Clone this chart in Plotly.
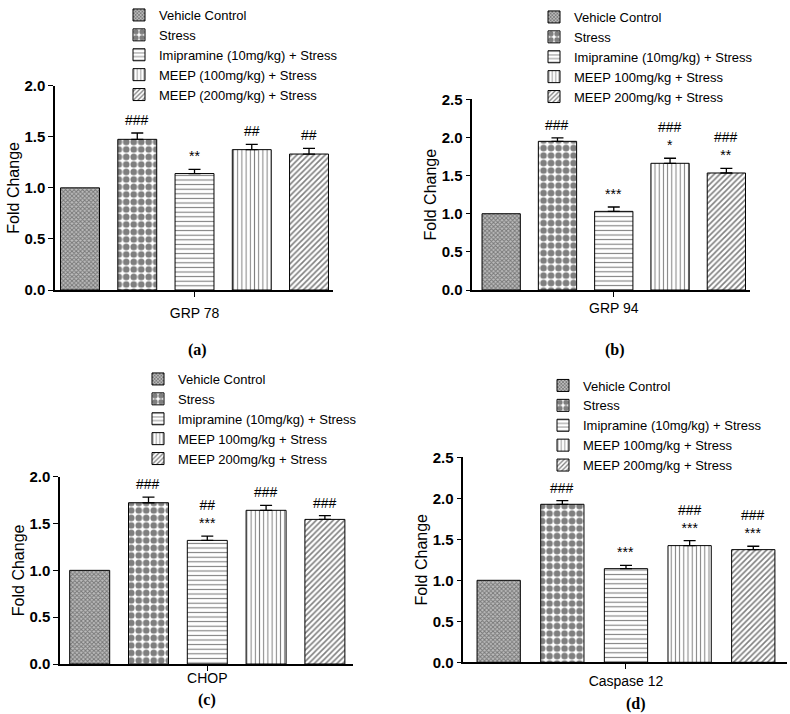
import plotly.graph_objects as go

# ---------------- data ----------------
groups_a = ["Vehicle Control", "Stress", "Imipramine (10mg/kg) + Stress",
            "MEEP (100mg/kg) + Stress", "MEEP (200mg/kg) + Stress"]
groups_b = ["Vehicle Control", "Stress", "Imipramine (10mg/kg) + Stress",
            "MEEP 100mg/kg + Stress", "MEEP 200mg/kg + Stress"]

genes = ["GRP 78", "GRP 94", "CHOP", "Caspase 12"]
panel_tags = ["(a)", "(b)", "(c)", "(d)"]

grp78_mean = [1.00, 1.475, 1.14, 1.374, 1.331]
grp78_sem = [0.0, 0.062, 0.04, 0.052, 0.056]
grp94_mean = [1.00, 1.949, 1.031, 1.661, 1.534]
grp94_sem = [0.0, 0.044, 0.057, 0.066, 0.061]
chop_mean = [1.00, 1.722, 1.32, 1.641, 1.544]
chop_sem = [0.0, 0.06, 0.046, 0.053, 0.04]
casp12_mean = [1.00, 1.927, 1.142, 1.423, 1.374]
casp12_sem = [0.0, 0.045, 0.041, 0.061, 0.041]

grp78_sig = ["", "###", "**", "##", "##"]
grp94_sig = ["", "###", "***", "###<br>*", "###<br>**"]
chop_sig = ["", "###", "##<br>***", "###", "###"]
casp12_sig = ["", "###", "***", "###<br>***", "###<br>***"]

y_max = [2.0, 2.5, 2.0, 2.5]
y_ticks = [[0, 0.5, 1.0, 1.5, 2.0], [0, 0.5, 1.0, 1.5, 2.0, 2.5],
           [0, 0.5, 1.0, 1.5, 2.0], [0, 0.5, 1.0, 1.5, 2.0, 2.5]]

means = [grp78_mean, grp94_mean, chop_mean, casp12_mean]
sems = [grp78_sem, grp94_sem, chop_sem, casp12_sem]
sigs = [grp78_sig, grp94_sig, chop_sig, casp12_sig]
legend_names = [groups_a, groups_b, groups_b, groups_b]

# ---------------- styling / layout ----------------
W, H = 790, 714
FONT = "Arial, Liberation Sans, sans-serif"

# pixel geometry of each panel: (x_left, x_right, y_bottom, y_top)
px_box = [(55, 333, 290, 85.7), (472.3, 750, 290, 99.3),
          (60, 353, 664, 476.7), (463.3, 786.7, 662.3, 457.3)]
x_ranges = [[-0.437, 4.419], [-0.513, 4.42], [-0.505, 4.478], [-0.556, 4.525]]
xlabel_standoff = [4, -1, -5, 0]
# legend anchor (left x, top y) in pixels
leg_px = [(119, 0), (534, 2), (138, 364), (543, 370.5)]
tag_px = [(197, 350), (615, 350), (207, 700), (636, 704)]

patterns = [
    dict(shape="x", size=3, solidity=0.55, fgcolor="#333333", bgcolor="#bdbdbd"),
    dict(shape=".", size=7.5, solidity=0.62, fgcolor="black", bgcolor="white"),
    dict(shape="-", size=4.6, solidity=0.24, fgcolor="black", bgcolor="white"),
    dict(shape="|", size=4.2, solidity=0.24, fgcolor="black", bgcolor="white"),
    dict(shape="/", size=4, solidity=0.4, fgcolor="black", bgcolor="white"),
]

fig = go.Figure()
annotations = []
layout_upd = {}

for p in range(4):
    ax = "" if p == 0 else str(p + 1)
    xa, ya = "x" + ax, "y" + ax
    leg = "legend" if p == 0 else "legend" + str(p + 1)
    for i in range(5):
        fig.add_trace(go.Bar(
            x=[i], y=[means[p][i]],
            width=0.68,
            name=legend_names[p][i],
            xaxis=xa, yaxis=ya, legend=leg,
            marker=dict(color="white", line=dict(color="black", width=1),
                        pattern=patterns[i]),
            error_y=dict(type="data", symmetric=False, array=[sems[p][i]],
                         arrayminus=[0], color="black", thickness=1.3, width=6,
                         visible=sems[p][i] > 0),
            showlegend=True,
        ))
        if sigs[p][i]:
            annotations.append(dict(
                x=i, y=means[p][i] + sems[p][i], xref=xa, yref=ya,
                text=sigs[p][i], showarrow=False, yanchor="bottom",
                yshift=3, font=dict(family=FONT, size=14, color="black"),
            ))
    xl, xr, yb, yt = px_box[p]
    layout_upd["xaxis" + ax] = dict(
        domain=[xl / W, xr / W], range=x_ranges[p], anchor=ya,
        showline=True, linecolor="black", linewidth=1.5, showgrid=False,
        zeroline=False, tickvals=[2], ticktext=[genes[p]], ticks="outside",
        ticklen=5, tickwidth=1.3, tickcolor="black", automargin=False,
        ticklabelstandoff=xlabel_standoff[p], fixedrange=True,
        tickfont=dict(family=FONT, size=14, color="black"),
    )
    layout_upd["yaxis" + ax] = dict(
        domain=[1 - yb / H, 1 - yt / H], range=[0, y_max[p]], anchor=xa,
        showline=True, linecolor="black", linewidth=1.5, showgrid=False,
        zeroline=False, tickvals=y_ticks[p], ticktext=["%.1f" % v for v in y_ticks[p]],
        ticks="outside", ticklen=5, tickwidth=1.3, tickcolor="black",
        automargin=False, fixedrange=True,
        tickfont=dict(family=FONT, size=15, color="black", weight="bold"),
        title=dict(text="Fold Change", standoff=1,
                   font=dict(family=FONT, size=16, color="black")),
    )
    lx, ly = leg_px[p]
    layout_upd[leg] = dict(
        x=lx / W, y=1 - ly / H, xanchor="left", yanchor="top",
        bgcolor="rgba(0,0,0,0)", borderwidth=0, tracegroupgap=0,
        font=dict(family=FONT, size=13, color="black"),
    )
    tx, ty = tag_px[p]
    annotations.append(dict(
        x=tx / W, y=1 - ty / H, xref="paper", yref="paper", text="<b>" + panel_tags[p] + "</b>",
        showarrow=False, xanchor="center", yanchor="middle",
        font=dict(family="Liberation Serif, Times New Roman, serif", size=16, color="black"),
    ))

fig.update_layout(
    width=W, height=H, margin=dict(l=0, r=0, t=0, b=0),
    paper_bgcolor="white", plot_bgcolor="white",
    barmode="overlay", annotations=annotations,
    font=dict(family=FONT, color="black"),
    **layout_upd,
)

fig.write_html("out.html", config={"displayModeBar": False},
               post_script="document.body.style.margin='0';")
